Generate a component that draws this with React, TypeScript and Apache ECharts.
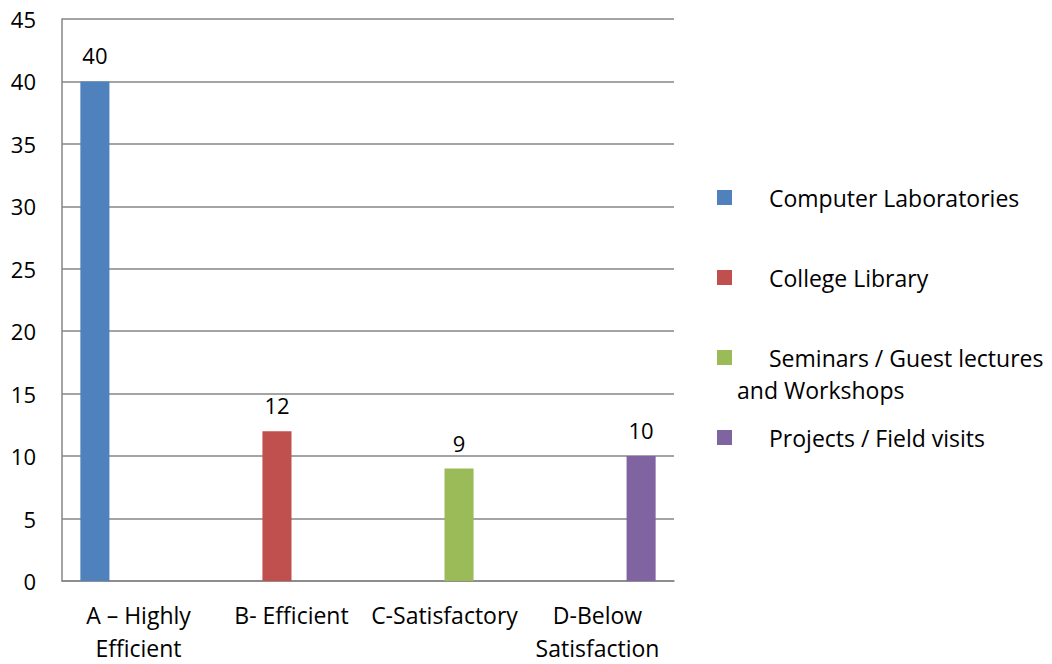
import React, { useEffect, useRef } from "react";
import * as echarts from "echarts";

const categories = ["A – Highly\nEfficient", "B- Efficient", "C-Satisfactory", "D-Below\nSatisfaction"];
const seriesNames = ["Computer Laboratories", "College Library", "Seminars / Guest lectures and Workshops", "Projects / Field visits"];
const seriesColors = ["#4F81BD", "#C0504D", "#9BBB59", "#8064A2"];
const computerLabs = [40, "-", "-", "-"];
const collegeLibrary = ["-", 12, "-", "-"];
const seminars = ["-", "-", 9, "-"];
const projects = ["-", "-", "-", 10];
const yTicks = { min: 0, max: 45, interval: 5 };

const FONT = "Open Sans";
const FS = 23;
const NS = 22;

export default function App() {
  const ref = useRef<HTMLDivElement>(null);
  useEffect(() => {
    if (!ref.current) return;
    const chart = echarts.init(ref.current, null, { renderer: "svg" });
    const values = [computerLabs, collegeLibrary, seminars, projects];
    const legendTops = [202, 282, 362, 442];
    const rich = {
      e: { fontFamily: FONT, fontSize: FS, color: "#000", lineHeight: 32 },
      a: { fontFamily: FONT, fontSize: FS, color: "#000", lineHeight: 32, padding: [0, 0, 0, 32] },
      b: { fontFamily: FONT, fontSize: FS, color: "#000", lineHeight: 32 },
    };
    chart.setOption({
      animation: false,
      textStyle: { fontFamily: FONT },
      grid: { left: 62, top: 19, right: 378, bottom: 77, containLabel: false },
      legend: seriesNames.map((n, i) => ({
        data: [n],
        orient: "vertical",
        left: 717,
        padding: 0,
        top: i === 2 ? legendTops[i] - 48 : legendTops[i] - 16,
        itemWidth: 15,
        itemHeight: 15,
        icon: "rect",
        selectedMode: false,
        textStyle: { fontFamily: FONT, fontSize: FS, color: "#000", rich },
        formatter: (name: string) => {
          if (i === 2) return "{e| }\n{a|Seminars / Guest lectures}\n{b|and Workshops}";
          return "{a|" + name + "}";
        },
      })),
      xAxis: {
        type: "category",
        data: categories,
        axisLine: { show: true, lineStyle: { color: "#868686", width: 1.5 } },
        axisTick: { show: false },
        axisLabel: { fontFamily: FONT, fontSize: FS, color: "#000", margin: 17, lineHeight: 33, interval: 0 },
      },
      yAxis: {
        type: "value",
        min: yTicks.min,
        max: yTicks.max,
        interval: yTicks.interval,
        axisLine: { show: true, lineStyle: { color: "#868686", width: 1.5 } },
        axisTick: { show: false },
        splitLine: { lineStyle: { color: "#868686", width: 1.5 } },
        axisLabel: { fontFamily: FONT, fontSize: NS, color: "#000", margin: 26 },
      },
      series: values.map((v, i) => ({
        type: "bar",
        name: seriesNames[i],
        data: v,
        barGap: "0%",
        barCategoryGap: "24%",
        itemStyle: { color: seriesColors[i] },
        label: { show: true, position: "top", distance: 15, fontFamily: FONT, fontSize: NS, color: "#000" },
      })),
    });
    return () => chart.dispose();
  }, []);
  return <div ref={ref} style={{ position: "absolute", left: 0, top: 0, width: 1052, height: 664 }} />;
}
